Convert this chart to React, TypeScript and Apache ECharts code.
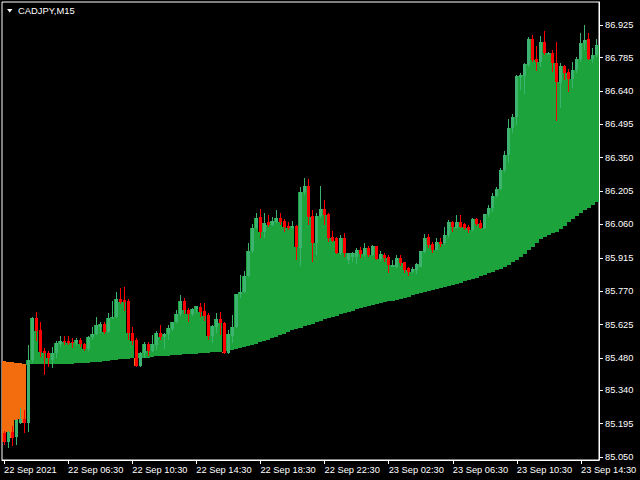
import { useEffect, useRef } from "react";
import * as echarts from "echarts";

const SYMBOL = "CADJPY,M15";
const FONT = "'Liberation Sans', Arial, sans-serif";

const X_TICK_LABELS = [
  "22 Sep 2021", "22 Sep 06:30", "22 Sep 10:30", "22 Sep 14:30", "22 Sep 18:30",
  "22 Sep 22:30", "23 Sep 02:30", "23 Sep 06:30", "23 Sep 10:30", "23 Sep 14:30",
];

const Y_TICK_VALUES = [
  85.05, 85.195, 85.34, 85.48, 85.625, 85.77, 85.915, 86.06, 86.205, 86.35,
  86.495, 86.64, 86.785, 86.925,
];

const OPEN = [
  85.154, 85.115, 85.159, 85.137, 85.198, 85.215, 85.198, 85.471, 85.654, 85.602,
  85.511, 85.502, 85.471, 85.502, 85.541, 85.554, 85.554, 85.550, 85.545, 85.558,
  85.541, 85.519, 85.571, 85.584, 85.615, 85.628, 85.593, 85.654, 85.658, 85.736,
  85.732, 85.728, 85.589, 85.558, 85.445, 85.502, 85.541, 85.511, 85.537, 85.589,
  85.571, 85.584, 85.606, 85.637, 85.671, 85.728, 85.689, 85.671, 85.693, 85.702,
  85.684, 85.667, 85.576, 85.615, 85.650, 85.632, 85.502, 85.576, 85.615, 85.758,
  85.767, 85.836, 85.945, 86.045, 86.093, 86.027, 86.071, 86.058, 86.071, 86.088,
  86.075, 86.054, 86.045, 86.054, 85.958, 86.201, 86.227, 86.097, 85.980, 86.097,
  86.127, 86.106, 86.006, 86.001, 85.936, 86.001, 85.906, 85.919, 85.919, 85.949,
  85.928, 85.958, 85.928, 85.967, 85.910, 85.928, 85.919, 85.875, 85.875, 85.914,
  85.897, 85.871, 85.854, 85.862, 85.875, 85.941, 86.006, 85.975, 85.949, 85.984,
  85.980, 86.014, 86.071, 86.045, 86.071, 86.062, 86.049, 86.036, 86.084, 86.067,
  86.045, 86.106, 86.132, 86.184, 86.214, 86.297, 86.362, 86.479, 86.527, 86.701,
  86.705, 86.753, 86.866, 86.779, 86.766, 86.853, 86.801, 86.805, 86.762, 86.675,
  86.749, 86.722, 86.692, 86.731, 86.779, 86.848, 86.866, 86.779, 86.796,
];

const CLOSE = [
  85.115, 85.159, 85.133, 85.211, 85.215, 85.198, 85.471, 85.654, 85.597, 85.506,
  85.502, 85.480, 85.502, 85.545, 85.554, 85.550, 85.545, 85.545, 85.558, 85.541,
  85.519, 85.571, 85.584, 85.624, 85.628, 85.593, 85.654, 85.658, 85.736, 85.723,
  85.723, 85.589, 85.554, 85.445, 85.502, 85.541, 85.511, 85.541, 85.589, 85.571,
  85.584, 85.611, 85.637, 85.671, 85.728, 85.689, 85.671, 85.693, 85.706, 85.680,
  85.663, 85.576, 85.619, 85.650, 85.632, 85.502, 85.584, 85.615, 85.758, 85.767,
  85.836, 85.945, 86.045, 86.088, 86.027, 86.067, 86.058, 86.075, 86.088, 86.071,
  86.049, 86.045, 86.054, 85.962, 86.201, 86.227, 86.093, 85.980, 86.097, 86.127,
  86.101, 86.001, 85.988, 85.936, 86.001, 85.936, 85.936, 85.936, 85.949, 85.932,
  85.958, 85.928, 85.967, 85.910, 85.932, 85.914, 85.884, 85.884, 85.914, 85.893,
  85.862, 85.854, 85.867, 85.888, 85.945, 86.001, 85.971, 85.949, 85.984, 85.975,
  86.014, 86.071, 86.049, 86.071, 86.049, 86.045, 86.036, 86.084, 86.062, 86.045,
  86.106, 86.132, 86.184, 86.214, 86.297, 86.362, 86.479, 86.527, 86.705, 86.709,
  86.757, 86.866, 86.775, 86.766, 86.853, 86.805, 86.805, 86.762, 86.679, 86.749,
  86.718, 86.692, 86.731, 86.779, 86.848, 86.861, 86.779, 86.796, 86.840,
];

const LOW = [
  85.102, 85.089, 85.098, 85.102, 85.193, 85.154, 85.159, 85.458, 85.554, 85.484,
  85.406, 85.441, 85.437, 85.480, 85.528, 85.537, 85.537, 85.524, 85.537, 85.528,
  85.511, 85.511, 85.558, 85.580, 85.589, 85.584, 85.589, 85.650, 85.654, 85.715,
  85.684, 85.558, 85.537, 85.441, 85.441, 85.480, 85.489, 85.506, 85.515, 85.558,
  85.519, 85.558, 85.597, 85.632, 85.663, 85.671, 85.637, 85.663, 85.676, 85.658,
  85.641, 85.558, 85.545, 85.589, 85.580, 85.498, 85.498, 85.545, 85.611, 85.741,
  85.762, 85.832, 85.936, 86.040, 86.001, 86.001, 86.049, 86.054, 86.067, 86.058,
  86.027, 86.036, 86.040, 85.906, 85.880, 86.188, 86.058, 85.897, 85.928, 86.088,
  86.058, 85.984, 85.984, 85.932, 85.928, 85.919, 85.888, 85.897, 85.888, 85.914,
  85.919, 85.919, 85.923, 85.906, 85.901, 85.897, 85.849, 85.875, 85.871, 85.880,
  85.849, 85.836, 85.849, 85.845, 85.875, 85.936, 85.958, 85.936, 85.949, 85.962,
  85.971, 86.001, 86.027, 86.045, 86.045, 86.036, 86.023, 86.032, 86.054, 86.040,
  86.040, 86.093, 86.114, 86.180, 86.210, 86.288, 86.327, 86.457, 86.492, 86.644,
  86.627, 86.744, 86.766, 86.727, 86.744, 86.796, 86.796, 86.722, 86.510, 86.566,
  86.688, 86.636, 86.653, 86.718, 86.766, 86.818, 86.775, 86.762, 86.788,
];

const HIGH = [
  85.163, 85.163, 85.185, 85.215, 85.263, 85.254, 85.537, 85.658, 85.680, 85.637,
  85.524, 85.511, 85.528, 85.554, 85.576, 85.576, 85.576, 85.567, 85.567, 85.567,
  85.545, 85.576, 85.615, 85.658, 85.637, 85.637, 85.676, 85.728, 85.767, 85.784,
  85.789, 85.736, 85.615, 85.567, 85.506, 85.550, 85.550, 85.580, 85.597, 85.624,
  85.589, 85.624, 85.637, 85.689, 85.754, 85.741, 85.697, 85.697, 85.706, 85.719,
  85.719, 85.676, 85.624, 85.676, 85.680, 85.637, 85.602, 85.667, 85.758, 85.841,
  85.858, 85.980, 86.062, 86.110, 86.127, 86.110, 86.101, 86.093, 86.123, 86.110,
  86.084, 86.071, 86.075, 86.058, 86.223, 86.262, 86.258, 86.123, 86.110, 86.227,
  86.166, 86.110, 86.032, 86.006, 86.014, 86.023, 85.936, 85.941, 85.958, 85.962,
  85.980, 85.967, 85.971, 85.967, 85.945, 85.936, 85.928, 85.906, 85.928, 85.928,
  85.897, 85.875, 85.875, 85.893, 85.945, 86.019, 86.019, 85.984, 86.001, 86.001,
  86.049, 86.080, 86.075, 86.101, 86.101, 86.067, 86.058, 86.088, 86.088, 86.080,
  86.106, 86.145, 86.197, 86.223, 86.305, 86.379, 86.518, 86.540, 86.709, 86.718,
  86.762, 86.875, 86.883, 86.835, 86.879, 86.901, 86.809, 86.818, 86.853, 86.762,
  86.753, 86.735, 86.766, 86.788, 86.892, 86.927, 86.892, 86.827, 86.866,
];

// indicator line: lower edge of the green histogram, upper edge of the orange one
const LINE = [
  85.467, 85.463, 85.463, 85.458, 85.458, 85.454, 85.450, 85.454, 85.454, 85.454,
  85.454, 85.454, 85.454, 85.454, 85.454, 85.454, 85.454, 85.454, 85.458, 85.458,
  85.458, 85.458, 85.463, 85.463, 85.463, 85.467, 85.467, 85.471, 85.471, 85.476,
  85.476, 85.476, 85.480, 85.480, 85.480, 85.480, 85.480, 85.484, 85.489, 85.489,
  85.489, 85.489, 85.493, 85.493, 85.493, 85.498, 85.498, 85.498, 85.498, 85.502,
  85.502, 85.502, 85.506, 85.506, 85.506, 85.506, 85.511, 85.515, 85.519, 85.524,
  85.528, 85.532, 85.537, 85.541, 85.550, 85.554, 85.558, 85.567, 85.571, 85.580,
  85.584, 85.593, 85.602, 85.606, 85.611, 85.619, 85.624, 85.628, 85.637, 85.641,
  85.650, 85.654, 85.658, 85.663, 85.671, 85.676, 85.680, 85.684, 85.693, 85.697,
  85.702, 85.706, 85.710, 85.715, 85.719, 85.723, 85.728, 85.728, 85.732, 85.736,
  85.741, 85.745, 85.754, 85.758, 85.762, 85.767, 85.771, 85.775, 85.780, 85.784,
  85.789, 85.793, 85.797, 85.802, 85.806, 85.815, 85.819, 85.823, 85.828, 85.836,
  85.841, 85.849, 85.854, 85.862, 85.867, 85.875, 85.884, 85.897, 85.906, 85.919,
  85.932, 85.949, 85.962, 85.980, 85.997, 86.006, 86.014, 86.023, 86.027, 86.040,
  86.054, 86.071, 86.084, 86.097, 86.110, 86.123, 86.132, 86.145, 86.158,
];

const COLORS = {
  bg: "#000000",
  fg: "#ffffff",
  histUp: "#1ca33c",
  histDown: "#f36c0e",
  candleUp: "#3cb371",
  candleDown: "#ff0000",
};

// M15 bars starting 22 Sep 02:30
const BAR_TIMES = OPEN.map((_, i) => {
  const m = 2 * 60 + 30 + 15 * i;
  const day = 22 + Math.floor(m / 1440);
  const mm = m % 1440;
  const hh = String(Math.floor(mm / 60)).padStart(2, "0");
  const mi = String(mm % 60).padStart(2, "0");
  return `${day} Sep ${hh}:${mi}`;
});

export default function App() {
  const ref = useRef<HTMLDivElement | null>(null);

  useEffect(() => {
    if (!ref.current) return;
    const chart = echarts.init(ref.current, null, { renderer: "svg" });

    const histData = LINE.map((l, i) => [i, l, CLOSE[i]]);
    const candleData = OPEN.map((o, i) => [i, o, CLOSE[i], LOW[i], HIGH[i]]);

    const option: any = {
      animation: false,
      backgroundColor: COLORS.bg,
      grid: {
        left: 2,
        top: 2,
        right: 41,
        bottom: 20,
        show: true,
        borderColor: COLORS.fg,
        borderWidth: 1,
        backgroundColor: "transparent",
      },
      xAxis: {
        type: "category",
        data: BAR_TIMES,
        boundaryGap: true,
        axisLine: { show: true, lineStyle: { color: COLORS.fg, width: 1 } },
        axisTick: {
          show: true,
          interval: 15,
          alignWithLabel: true,
          length: 4,
          lineStyle: { color: COLORS.fg },
        },
        axisLabel: {
          interval: 15,
          color: COLORS.fg,
          fontFamily: FONT,
          fontSize: 9.3,
          align: "left",
          margin: 5,
          formatter: (_v: string, idx: number) => X_TICK_LABELS[Math.round(idx / 16)] ?? "",
        },
        splitLine: { show: false },
      },
      yAxis: {
        type: "value",
        position: "right",
        min: 85.037,
        max: 87.0265,
        axisLine: { show: true, lineStyle: { color: COLORS.fg, width: 1 } },
        axisTick: {
          show: true,
          length: 4,
          customValues: Y_TICK_VALUES,
          lineStyle: { color: COLORS.fg },
        },
        axisLabel: {
          customValues: Y_TICK_VALUES,
          color: COLORS.fg,
          fontFamily: FONT,
          fontSize: 9.3,
          margin: 6,
          formatter: (v: number) => v.toFixed(3),
        },
        splitLine: { show: false },
      },
      series: [
        {
          type: "custom",
          name: "histogram",
          z: 1,
          clip: true,
          data: histData,
          encode: { x: 0, y: [1, 2] },
          renderItem: (_params: any, api: any) => {
            const i = api.value(0);
            const line = api.value(1);
            const close = api.value(2);
            const p1 = api.coord([i, line]);
            const p2 = api.coord([i, close]);
            const w = api.size([1, 0])[0];
            const x0 = Math.round(p1[0] - w / 2);
            const x1 = Math.round(p1[0] + w / 2);
            const y0 = Math.round(Math.min(p1[1], p2[1]));
            const y1 = Math.round(Math.max(p1[1], p2[1]));
            return {
              type: "rect",
              shape: { x: x0, y: y0, width: x1 - x0, height: Math.max(1, y1 - y0) },
              style: { fill: close >= line ? COLORS.histUp : COLORS.histDown },
            };
          },
        },
        {
          type: "custom",
          name: "candles",
          z: 2,
          clip: true,
          data: candleData,
          encode: { x: 0, y: [1, 2, 3, 4] },
          renderItem: (_params: any, api: any) => {
            const i = api.value(0);
            const o = api.value(1);
            const c = api.value(2);
            const lo = api.value(3);
            const hi = api.value(4);
            const pO = api.coord([i, o]);
            const pC = api.coord([i, c]);
            const pL = api.coord([i, lo]);
            const pH = api.coord([i, hi]);
            const bx = Math.round(pO[0] - 1.5);
            const color = c >= o ? COLORS.candleUp : COLORS.candleDown;
            const bTop = Math.round(Math.min(pO[1], pC[1]));
            const bBot = Math.round(Math.max(pO[1], pC[1]));
            const wTop = Math.round(pH[1]);
            const wBot = Math.round(pL[1]);
            return {
              type: "group",
              children: [
                {
                  type: "rect",
                  shape: { x: bx + 1, y: wTop, width: 1, height: Math.max(1, wBot - wTop) },
                  style: { fill: color },
                },
                {
                  type: "rect",
                  shape: { x: bx, y: bTop, width: 3, height: Math.max(1, bBot - bTop) },
                  style: { fill: color },
                },
              ],
            };
          },
        },
      ],
      graphic: [
        {
          type: "polygon",
          shape: { points: [[7, 9], [12.5, 9], [9.75, 12.5]] },
          style: { fill: COLORS.fg },
        },
        {
          type: "text",
          x: 18,
          y: 10.7,
          style: {
            text: SYMBOL,
            fill: COLORS.fg,
            font: `9.4px ${FONT}`,
            verticalAlign: "middle",
            align: "left",
          },
        },
      ],
    };

    chart.setOption(option);
    return () => chart.dispose();
  }, []);

  return (
    <div
      ref={ref}
      style={{ position: "fixed", left: 0, top: 0, width: 640, height: 480, background: "#000" }}
    />
  );
}
